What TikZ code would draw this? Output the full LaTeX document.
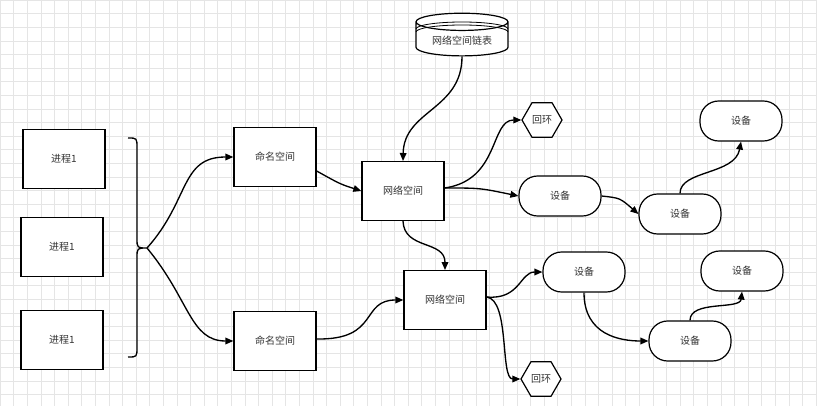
\documentclass[tikz,border=0pt]{standalone}
\usepackage{fontspec}
\setmainfont{Noto Sans CJK SC}
\usetikzlibrary{shapes.geometric,arrows.meta,calc}
\begin{document}
\begin{tikzpicture}[x=0.75pt,y=-0.75pt,
  every node/.style={font=\fontsize{7.5}{9}\selectfont, text=black!80},
  rect/.style={draw, line width=1pt, minimum width=61.5pt, minimum height=44pt, fill=white},
  dev/.style={draw, line width=0.9pt, rounded corners=14pt, minimum width=61.5pt, minimum height=30pt, fill=white},
  hexa/.style={draw, line width=0.9pt, regular polygon, regular polygon sides=6, minimum width=30pt, inner sep=0pt, fill=white},
  cyl/.style={draw, line width=0.9pt, cylinder, shape border rotate=90, aspect=0.25, minimum width=69pt, minimum height=32pt, fill=white},
  con/.style={line width=1pt, -{Triangle[length=6pt,width=5pt]}}]
\useasboundingbox (0,0) rectangle (817,406);
\fill[white] (0,0) rectangle (817,406);
\foreach \i in {0,...,60} {\draw[black!10, line width=0.4pt] (\i*13.6,0) -- (\i*13.6,406);}
\foreach \i in {0,...,30} {\draw[black!10, line width=0.4pt] (0,\i*13.6) -- (817,\i*13.6);}
% processes
\node[rect] (p1) at (64,159) {进程1};
\node[rect] (p2) at (62,247) {进程1};
\node[rect] (p3) at (62,340) {进程1};
% brace
\coordinate (tip) at (147,248);
\draw[line width=1pt] (128,138) .. controls (137,138) .. (137,148) -- (137,238) .. controls (137,248) .. (tip) .. controls (137,248) .. (137,258) -- (137,347) .. controls (137,357) .. (128,357);
% namespaces
\node[rect] (n1) at (275,157) {命名空间};
\node[rect] (n2) at (275,341) {命名空间};
\node[rect] (w1) at (403,191) {网络空间};
\node[rect] (w2) at (445,300) {网络空间};
\node[cyl] (db) at (462,41) {网络空间链表};
\draw[line width=0.6pt] (416,29) arc[start angle=180,end angle=360,x radius=46,y radius=7];
\draw[line width=0.6pt] (416,32) arc[start angle=180,end angle=360,x radius=46,y radius=7];
\node[hexa] (h1) at (542,120) {回环};
\node[hexa] (h2) at (541,379) {回环};
\node[dev] (d1) at (560,196) {设备};
\node[dev] (d2) at (680,214) {设备};
\node[dev] (d3) at (741,121) {设备};
\node[dev] (d4) at (584,272) {设备};
\node[dev] (d5) at (690,341) {设备};
\node[dev] (d6) at (742,271) {设备};
% connectors
\draw[con] (tip) .. controls (190,200) and (180,157) .. (n1.west);
\draw[con] (tip) .. controls (190,300) and (190,341) .. (n2.west);
\draw[con] ($(n1.east)+(0,14)$) .. controls (340,184) .. (w1.west);
\draw[con] ($(n2.east)+(0,-2)$) .. controls (380,340) and (360,300) .. (w2.west);
\draw[con] (db.south) .. controls (462,110) and (404,110) .. (w1.north);
\draw[con] (w1.south) .. controls (404,250) and (445,240) .. (w2.north);
\draw[con] ($(w1.east)+(0,-3)$) .. controls (500,180) and (490,120) .. (h1.west);
\draw[con] ($(w1.east)+(0,-3)$) .. controls (480,188) .. (d1.west);
\draw[con] (d1.east) .. controls (620,198) .. (d2.west);
\draw[con] (d2.north) .. controls (680,170) and (735,175) .. (d3.south);
\draw[con] ($(w2.east)+(0,-3)$) .. controls (520,300) and (520,272) .. (d4.west);
\draw[con] ($(w2.east)+(0,-3)$) .. controls (510,300) and (500,379) .. (h2.west);
\draw[con] (d4.south) .. controls (584,335) and (620,341) .. (d5.west);
\draw[con] (d5.north) .. controls (690,300) and (740,310) .. (d6.south);
\end{tikzpicture}
\end{document}
